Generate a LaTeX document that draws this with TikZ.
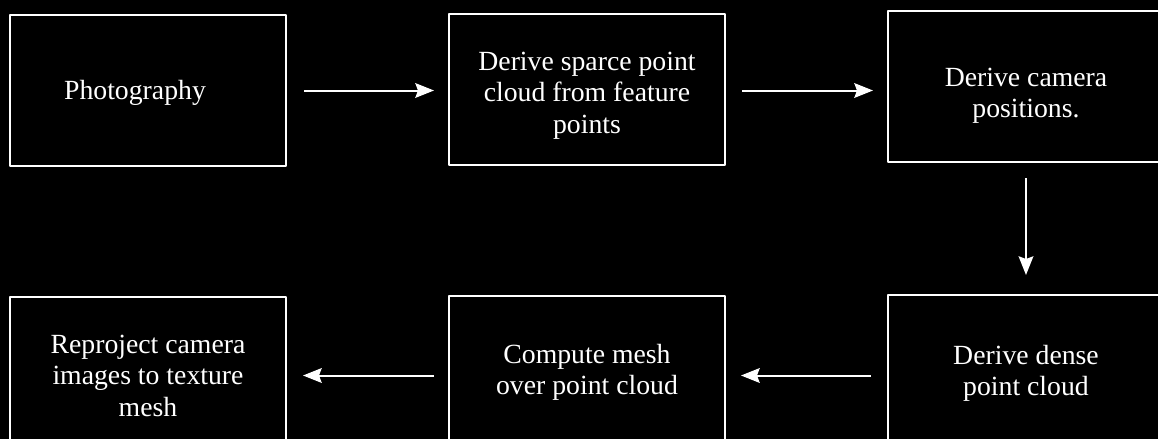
\documentclass[tikz,border=0pt]{standalone}
\usepackage{fontspec}
\setmainfont{Liberation Serif}
\usetikzlibrary{arrows.meta}

\tikzset{
  stagebox/.style={draw=white,line width=1.5pt,minimum width=207pt,minimum height=113.25pt},
  stagetext/.style={text=white,align=center,font=\fontsize{20.8}{23.6}\selectfont},
  flow/.style={draw=white,line width=1.5pt,-{Stealth[length=14pt,width=11pt,inset=2pt]}}
}

\begin{document}
\begin{tikzpicture}[x=0.75pt,y=-0.75pt,line join=round]
    \useasboundingbox (0,0) rectangle (1158,439);
    \fill[black] (0,0) rectangle (1158,439);
    \clip (0,0) rectangle (1158,439);
    % top row
    \node[stagebox,label={[stagetext,xshift=-9.75pt,yshift=-1.5pt]center:Photography}] (photo) at (148,90.5){};
    \node[stagebox,label={[stagetext,yshift=-5pt]center:Derive sparce point\\cloud from feature\\points}] (sparse) at (587,89){};
    \node[stagebox,label={[stagetext,yshift=-7pt]center:Derive camera\\positions.}] (camera) at (1026,86.5){};
    % bottom row
    \node[stagebox,label={[stagetext,yshift=-2pt]center:Derive dense\\point cloud}] (dense) at (1026,370.5){};
    \node[stagebox,label={[stagetext,yshift=-0.5pt]center:Compute mesh\\over point cloud}] (mesh) at (587,371.5){};
    \node[stagebox,label={[stagetext,yshift=-2.5pt]center:Reproject camera\\images to texture\\mesh}] (texture) at (148,372.5){};
    % arrows
    \draw[flow,shorten <=12.75pt,shorten >=10.5pt] (photo.east) -- (photo.east -| sparse.west);
    \draw[flow,shorten <=12pt,shorten >=10.5pt] (photo.east -| sparse.east) -- (photo.east -| camera.west);
    \draw[flow,shorten <=11.25pt,shorten >=14.25pt] (camera.south) -- (dense.north);
    \draw[flow,shorten <=12pt,shorten >=11.25pt] ([yshift=-3.75pt]dense.west) -- ([yshift=-3.75pt]dense.west -| mesh.east);
    \draw[flow,shorten <=10.5pt,shorten >=12pt] ([yshift=-3.75pt]dense.west -| mesh.west) -- ([yshift=-3.75pt]dense.west -| texture.east);
\end{tikzpicture}
\end{document}
